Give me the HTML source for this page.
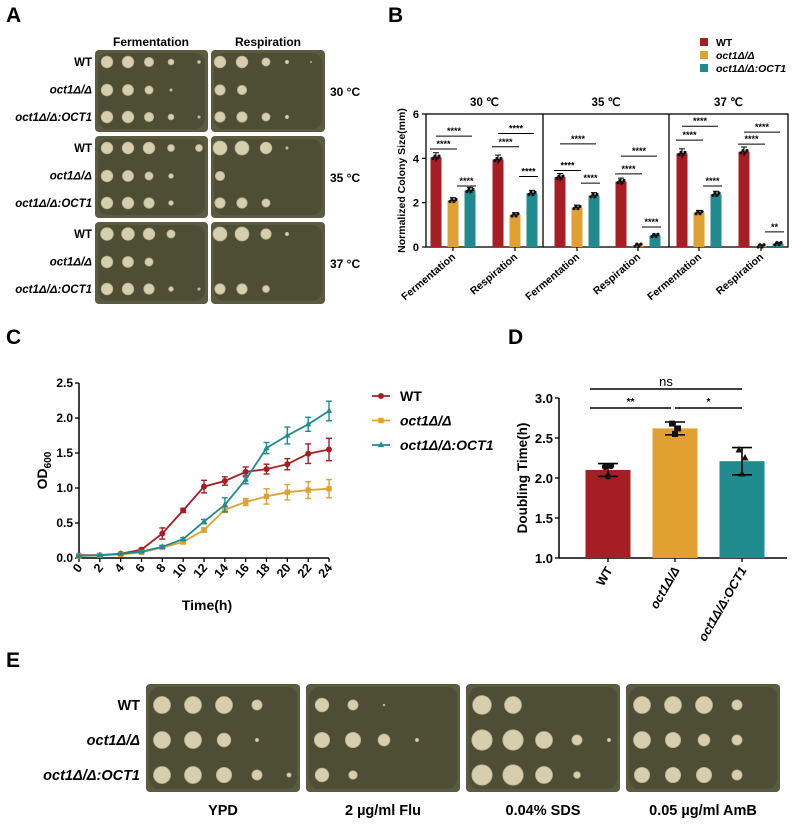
<!DOCTYPE html>
<html><head><meta charset="utf-8"><style>
html,body{margin:0;padding:0;background:#fff}
svg{display:block;font-family:"Liberation Sans",sans-serif}
</style></head><body>
<svg id="fig" width="794" height="824" viewBox="0 0 794 824" xmlns="http://www.w3.org/2000/svg">
<g font-weight="bold" font-size="21">
<text x="6" y="22">A</text>
<text x="388" y="22">B</text>
<text x="6" y="344">C</text>
<text x="508" y="344">D</text>
<text x="6" y="667">E</text>
</g>
<g id="pa"></g>
<g id="pe"></g>
<g id="pb"></g>
<g id="pc"></g>
<g id="pd"></g>
</svg>
<script>
// ---------- Panel B data ----------
const bTemps = ["30 ℃","35 ℃","37 ℃"];
const bConds = ["Fermentation","Respiration"];
const bWT  = [4.05,3.95, 3.15,2.95, 4.22,4.30];
const bOct = [2.10,1.45, 1.78,0.08, 1.55,0.05];
const bCmp = [2.55,2.42, 2.32,0.52, 2.38,0.15];
const bTicks = [0,2,4,6];
const bSigWO = [4.42,4.52, 3.45,3.30, 4.82,4.64];
const bSigWC = [5.00,5.12, 4.65,4.10, 5.45,5.18];
const bSigOC = [2.75,3.18, 2.88,0.90, 2.75,0.68];
const bSigOCLabel = ["****","****","****","****","****","**"];
// ---------- Panel C data ----------
const cTime = [0,2,4,6,8,10,12,14,16,18,20,22,24];
const cWT  = [0.04,0.04,0.06,0.12,0.35,0.68,1.02,1.10,1.23,1.27,1.34,1.49,1.55];
const cWTe = [0.01,0.01,0.01,0.02,0.08,0.03,0.09,0.06,0.07,0.07,0.08,0.14,0.16];
const cOct = [0.03,0.04,0.05,0.08,0.15,0.23,0.40,0.69,0.80,0.88,0.94,0.97,0.99];
const cOcte= [0.01,0.01,0.01,0.01,0.02,0.03,0.03,0.04,0.05,0.11,0.11,0.12,0.13];
const cCmp = [0.03,0.04,0.06,0.09,0.16,0.27,0.52,0.76,1.12,1.57,1.75,1.91,2.10];
const cCmpe= [0.01,0.01,0.01,0.01,0.02,0.02,0.03,0.10,0.06,0.08,0.12,0.10,0.14];
const cYTicks = ["0.0","0.5","1.0","1.5","2.0","2.5"];
// ---------- Panel D data ----------
const dCats = ["WT","oct1Δ/Δ","oct1Δ/Δ:OCT1"];
const dMean = [2.10,2.62,2.21];
const dErr  = [0.08,0.08,0.17];
const dPts  = [[2.14,2.15,2.02],[2.68,2.62,2.55],[2.35,2.25,2.05]];
const dYTicks = ["1.0","1.5","2.0","2.5","3.0"];

const NS="http://www.w3.org/2000/svg";
const C=["#a61e24","#e0a132","#1f8b8e"];
function mk(p,tag,at,txt){const e=document.createElementNS(NS,tag);for(const k in at)e.setAttribute(k,at[k]);if(txt!==undefined)e.textContent=txt;p.appendChild(e);return e;}

// ---------- Plates ----------
function plate(g,x,y,w,h,cols,rows,spots,r){
  const p=mk(g,'rect',{x:x,y:y,width:w,height:h,rx:4,fill:'#5a5b40'});
  
  
  mk(g,'rect',{x:x+3,y:y+3,width:w-6,height:h-6,rx:10,fill:'#47482f',opacity:0.7});
  rows.forEach((ry,ri)=>{cols.forEach((cx,ci)=>{const s=spots[ri][ci];if(s>0){const c=mk(g,'circle',{cx:x+cx,cy:y+ry,r:r*s,fill:'#d6cfae',stroke:'#b8af90','stroke-width':0.8});
    
    }});});
}
const pa=document.getElementById('pa');
const aSpots=[
 [[[1,1,.8,.5,.25],[1,.95,.7,.2,0],[1,1,.8,.5,.2]],[[1,1,.7,.3,.1],[.9,.8,0,0,0],[.9,.9,.7,.3,0]]],
 [[[1,1,1,.6,.6],[1,.95,.7,.4,0],[1,1,.9,.4,0]],[[1.2,1.2,1,.2,0],[.8,0,0,0,0],[.9,.9,.7,0,0]]],
 [[[1.1,1.1,1,.7,0],[1,.95,.7,0,0],[1,1,.9,.4,.2]],[[1.2,1.2,.9,.3,0],[0,0,0,0,0],[.9,.9,.6,0,0]]]
];
const aPlY=[50,136,222];
const aRows=["WT","oct1Δ/Δ","oct1Δ/Δ:OCT1"];
const aTemps=["30 °C","35 °C","37 °C"];
mk(pa,'text',{x:151,y:46,'font-size':12,'font-weight':'bold','text-anchor':'middle'},"Fermentation");
mk(pa,'text',{x:268,y:46,'font-size':12,'font-weight':'bold','text-anchor':'middle'},"Respiration");
aPlY.forEach((py,i)=>{
  plate(pa,95,py,113,82,[12,33,54,76,104],[12,40,67],aSpots[i][0],5.8);
  plate(pa,211,py,114,82,[9,31,55,76,100],[12,40,67],aSpots[i][1],5.8);
  aRows.forEach((t,ri)=>{mk(pa,'text',{x:92,y:py+16+ri*27.5,'font-size':11.5,'font-weight':'bold','font-style':t==='WT'?'normal':'italic','text-anchor':'end'},t);});
  mk(pa,'text',{x:330,y:py+46,'font-size':12,'font-weight':'bold'},aTemps[i]);
});
const pe=document.getElementById('pe');
const eX=[146,306,466,626];
const eLab=["YPD","2 µg/ml Flu","0.04% SDS","0.05 µg/ml AmB"];
const eSpots=[
 [[1,1,1,.6,0],[1,1,.8,.2,0],[1,1,.9,.6,.25]],
 [[.8,.6,.1,0,0],[.9,.9,.7,.2,0],[.8,.5,0,0,0]],
 [[1.1,1,0,0,0],[1.2,1.2,1,.6,.2],[1.2,1.2,1,.4,0]],
 [[1,1,1,.6,0],[1,.9,.7,.6,0],[.9,.9,.9,.6,0]]
];
eX.forEach((x,i)=>{
  plate(pe,x,684,154,108,[16,47,78,111,143],[21,56,91],eSpots[i],8.5);
  mk(pe,'text',{x:x+77,y:815,'font-size':14.5,'font-weight':'bold','text-anchor':'middle'},eLab[i]);
});
aRows.forEach((t,ri)=>{mk(pe,'text',{x:140,y:710+ri*35,'font-size':14.5,'font-weight':'bold','font-style':t==='WT'?'normal':'italic','text-anchor':'end'},t);});

// ---------- Panel B ----------
const pb=document.getElementById('pb');
const bL=426,bR=788,bY0=247,bY6=114;
const by=v=>bY0-(v-0)*(bY0-bY6)/6;
const groupX=[436,498,560,621,682,744];
const bSpan=[[426,543],[543,669],[669,788]];
const bw=11,bStep=17;
mk(pb,'rect',{x:bL,y:bY6,width:bR-bL,height:bY0-bY6,fill:'none',stroke:'#000','stroke-width':1.3});
[543,669].forEach(x=>mk(pb,'line',{x1:x,y1:bY6,x2:x,y2:bY0,stroke:'#000','stroke-width':1.3}));
bTemps.forEach((t,i)=>{const e=mk(pb,'text',{x:(bSpan[i][0]+bSpan[i][1])/2,y:106,'font-size':11.5,'font-weight':'bold','text-anchor':'middle'},t);
  
  });
bTicks.forEach(v=>{mk(pb,'line',{x1:bL-4,y1:by(v),x2:bL,y2:by(v),stroke:'#000','stroke-width':1.2});
  mk(pb,'text',{x:bL-7,y:by(v)+4,'font-size':11,'font-weight':'bold','text-anchor':'end'},v);});
mk(pb,'text',{x:0,y:0,'font-size':10.5,'font-weight':'bold','text-anchor':'middle',transform:`translate(405,${(bY0+bY6)/2}) rotate(-90)`},"Normalized Colony Size(mm)");
const series=[bWT,bOct,bCmp];
groupX.forEach((gx,gi)=>{
  series.forEach((s,si)=>{
    const cx=gx+si*bStep, v=s[gi];
    const r=mk(pb,'rect',{x:cx-bw/2,y:by(v),width:bw,height:bY0-by(v),fill:C[si]});
    
    
    mk(pb,'line',{x1:cx,y1:by(v*1.04+0.04),x2:cx,y2:by(v*0.96-0.04),stroke:'#000','stroke-width':1});
    mk(pb,'line',{x1:cx-3,y1:by(v*1.04+0.04),x2:cx+3,y2:by(v*1.04+0.04),stroke:'#000','stroke-width':1});
    [-3,-1,1,3].forEach((dx,k)=>mk(pb,'circle',{cx:cx+dx,cy:by(v+(k%2?0.05:-0.05)),r:1.6,fill:'#111'}));
  });
  const mid=gx+bStep;
  mk(pb,'line',{x1:mid,y1:bY0,x2:mid,y2:bY0+4,stroke:'#000','stroke-width':1.2});
  const lab=mk(pb,'text',{x:0,y:0,'font-size':10.5,'font-weight':'bold','text-anchor':'end',transform:`translate(${mid+3},${bY0+11}) rotate(-40)`},bConds[gi%2]);
  
  
  const sig=(x1,x2,v,l)=>{mk(pb,'line',{x1:x1,y1:by(v),x2:x2,y2:by(v),stroke:'#000','stroke-width':1});
    mk(pb,'text',{x:(x1+x2)/2,y:by(v)-2,'font-size':9,'font-weight':'bold','text-anchor':'middle'},l);};
  sig(gx-6,gx+bStep+4,bSigWO[gi],"****");
  sig(gx,gx+2*bStep+2,bSigWC[gi],"****");
  sig(gx+bStep+4,gx+2*bStep+6,bSigOC[gi],bSigOCLabel[gi]);
});
const bLeg=["WT","oct1Δ/Δ","oct1Δ/Δ:OCT1"];
bLeg.forEach((t,i)=>{const y=43+i*13;
  mk(pb,'rect',{x:700,y:y-5,width:8,height:8,fill:C[i]});
  const e=mk(pb,'text',{x:716,y:y+3,'font-size':10.5,'font-weight':'bold','font-style':i?'italic':'normal'},t);
  
  });

// ---------- Panel C ----------
const pc=document.getElementById('pc');
const cx0=79,cx1=329,cy0=558,cy1=383;
const cxs=t=>cx0+t*(cx1-cx0)/24, cys=v=>cy0-v*(cy0-cy1)/2.5;
mk(pc,'line',{x1:cx0,y1:cy0,x2:cx1,y2:cy0,stroke:'#000','stroke-width':1.5});
mk(pc,'line',{x1:cx0,y1:cy0,x2:cx0,y2:cy1,stroke:'#000','stroke-width':1.5});
cYTicks.forEach(s=>{const v=parseFloat(s);mk(pc,'line',{x1:cx0-4,y1:cys(v),x2:cx0,y2:cys(v),stroke:'#000','stroke-width':1.3});
  mk(pc,'text',{x:cx0-6,y:cys(v)+4,'font-size':12,'font-weight':'bold','text-anchor':'end'},s);});
cTime.forEach(t=>{mk(pc,'line',{x1:cxs(t),y1:cy0,x2:cxs(t),y2:cy0+4,stroke:'#000','stroke-width':1.3});
  mk(pc,'text',{x:0,y:0,'font-size':12.5,'font-weight':'bold','text-anchor':'end',transform:`translate(${cxs(t)+4},${cy0+10}) rotate(-50)`},t);});
mk(pc,'text',{x:207,y:610,'font-size':14,'font-weight':'bold','text-anchor':'middle'},"Time(h)");
const od=mk(pc,'text',{x:0,y:0,'font-size':14,'font-weight':'bold','text-anchor':'middle',transform:`translate(47,${(cy0+cy1)/2}) rotate(-90)`},"OD");
mk(od,'tspan',{'font-size':10,dy:4},"600");
const cSer=[[cWT,cWTe],[cOct,cOcte],[cCmp,cCmpe]];
cSer.forEach(([s,e],si)=>{
  const pts=cTime.map((t,i)=>cxs(t)+','+cys(s[i])).join(' ');
  const pl=mk(pc,'polyline',{points:pts,fill:'none',stroke:C[si],'stroke-width':1.8});
  
  
  cTime.forEach((t,i)=>{const x=cxs(t);
    mk(pc,'line',{x1:x,y1:cys(s[i]+e[i]),x2:x,y2:cys(s[i]-e[i]),stroke:C[si],'stroke-width':1.4});
    mk(pc,'line',{x1:x-3,y1:cys(s[i]+e[i]),x2:x+3,y2:cys(s[i]+e[i]),stroke:C[si],'stroke-width':1.4});
    mk(pc,'line',{x1:x-3,y1:cys(s[i]-e[i]),x2:x+3,y2:cys(s[i]-e[i]),stroke:C[si],'stroke-width':1.4});
    if(si===0)mk(pc,'circle',{cx:x,cy:cys(s[i]),r:3,fill:C[si]});
    else if(si===1)mk(pc,'rect',{x:x-2.7,y:cys(s[i])-2.7,width:5.4,height:5.4,fill:C[si]});
    else mk(pc,'path',{d:`M${x},${cys(s[i])-3.5}l3.2,5.6h-6.4z`,fill:C[si]});
  });
});
bLeg.forEach((t,i)=>{const y=396+i*24.5;
  mk(pc,'line',{x1:372,y1:y,x2:390,y2:y,stroke:C[i],'stroke-width':1.8});
  if(i===0)mk(pc,'circle',{cx:381,cy:y,r:3,fill:C[i]});else if(i===1)mk(pc,'rect',{x:378.3,y:y-2.7,width:5.4,height:5.4,fill:C[i]});else mk(pc,'path',{d:`M381,${y-3.5}l3.2,5.6h-6.4z`,fill:C[i]});
  const e=mk(pc,'text',{x:400,y:y+5,'font-size':14,'font-weight':'bold','font-style':i?'italic':'normal'},t);
  
  });

// ---------- Panel D ----------
const pd=document.getElementById('pd');
const dx0=559,dx1=787,dy0=558,dy1=398;
const dys=v=>dy0-(v-1)*(dy0-dy1)/2;
const dCx=[608,675,742];
mk(pd,'line',{x1:dx0,y1:dy0,x2:dx1,y2:dy0,stroke:'#000','stroke-width':1.5});
mk(pd,'line',{x1:dx0,y1:dy0,x2:dx0,y2:dy1,stroke:'#000','stroke-width':1.5});
dYTicks.forEach(s=>{const v=parseFloat(s);mk(pd,'line',{x1:dx0-4,y1:dys(v),x2:dx0,y2:dys(v),stroke:'#000','stroke-width':1.3});
  mk(pd,'text',{x:dx0-6,y:dys(v)+5,'font-size':13,'font-weight':'bold','text-anchor':'end'},s);});
mk(pd,'text',{x:0,y:0,'font-size':13.5,'font-weight':'bold','text-anchor':'middle',transform:`translate(527,${(dy0+dy1)/2}) rotate(-90)`},"Doubling Time(h)");
dCats.forEach((c,i)=>{const x=dCx[i],v=dMean[i];
  const r=mk(pd,'rect',{x:x-22.5,y:dys(v),width:45,height:dy0-dys(v),fill:C[i]});
  
  
  const hi=dys(v+dErr[i]),lo=dys(v-dErr[i]);
  mk(pd,'line',{x1:x,y1:hi,x2:x,y2:lo,stroke:'#000','stroke-width':1.6});
  mk(pd,'line',{x1:x-10,y1:hi,x2:x+10,y2:hi,stroke:'#000','stroke-width':1.6});
  mk(pd,'line',{x1:x-10,y1:lo,x2:x+10,y2:lo,stroke:'#000','stroke-width':1.6});
  dPts[i].forEach((p,k)=>{const px=x+[-3,3,0][k];
    if(i===0)mk(pd,'circle',{cx:px,cy:dys(p),r:3.2,fill:'#111'});else if(i===1)mk(pd,'rect',{x:px-3,y:dys(p)-3,width:6,height:6,fill:'#111'});else mk(pd,'path',{d:`M${px},${dys(p)-4}l3.5,6.5h-7z`,fill:'#111'});});
  mk(pd,'line',{x1:x,y1:dy0,x2:x,y2:dy0+4,stroke:'#000','stroke-width':1.3});
  const l=mk(pd,'text',{x:0,y:0,'font-size':12.5,'font-weight':'bold','font-style':i?'italic':'normal','text-anchor':'end',transform:`translate(${x+5},${dy0+12}) rotate(-60)`},c);
  
  
});
const dSig=(x1,x2,y,t,fs)=>{mk(pd,'line',{x1:x1,y1:y,x2:x2,y2:y,stroke:'#000','stroke-width':1.4});mk(pd,'text',{x:(x1+x2)/2,y:y-3,'font-size':fs,'font-weight':t==='ns'?'normal':'bold','text-anchor':'middle'},t);};
dSig(590,671,408,"**",10);dSig(675,742,408,"*",10);dSig(590,742,389,"ns",13);
</script>
</body></html>
